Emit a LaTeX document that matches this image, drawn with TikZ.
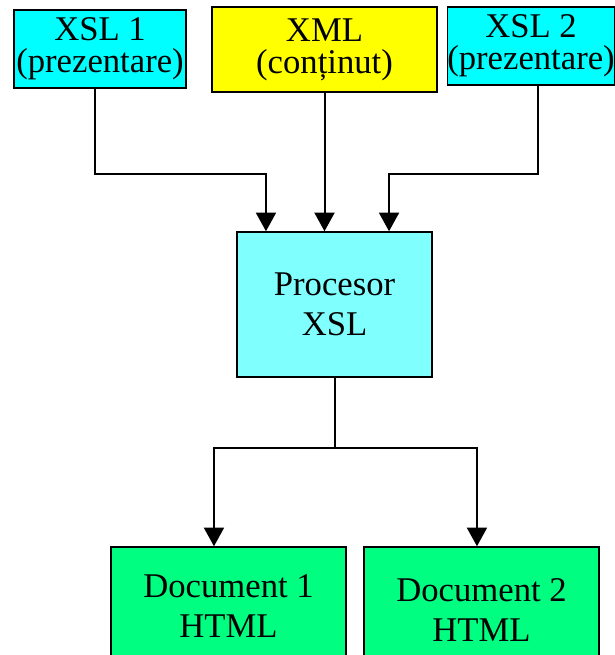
\documentclass[tikz,border=0pt]{standalone}
\usepackage{fontspec}
\setmainfont{Liberation Serif}
\usetikzlibrary{arrows.meta}

\definecolor{xslcyan}{RGB}{0,255,255}
\definecolor{xmlyellow}{RGB}{255,255,0}
\definecolor{proccyan}{RGB}{128,255,255}
\definecolor{docgreen}{RGB}{0,255,128}

\begin{document}
\begin{tikzpicture}[x=0.75pt,y=-0.75pt,>={Triangle[length=14pt,width=15pt]},
                    line width=1.5pt,
                    box/.style={rectangle,draw,line width=1.1pt,align=center,inner sep=0pt,
                                font=\fontsize{26}{30}\selectfont},
                    top box/.style={box,minimum height=58.5pt,
                                font=\fontsize{26}{24}\selectfont}]
\useasboundingbox (0,0) rectangle (614,655);

% sources
\node[top box,fill=xslcyan,minimum width=129pt] (xsl1) at (100,49) {XSL 1\hspace{0.6em}\\(prezentare)};
\node[top box,fill=xmlyellow,minimum width=168.75pt,minimum height=63.75pt] (xml) at (324.5,49.5) {XML\\(conținut)};
\node[top box,fill=xslcyan,minimum width=121.5pt] (xsl2) at (531,46) {XSL 2\\(prezentare)};

% processor
\node[box,fill=proccyan,minimum width=146.25pt,minimum height=108.75pt] (proc) at (334.5,304.5) {Procesor\\XSL};

% results
\node[box,fill=docgreen,minimum width=176.25pt,minimum height=88.5pt] (doc1) at (228.5,606) {Document 1\\HTML};
\node[box,fill=docgreen,minimum width=176.25pt,minimum height=94.5pt] (doc2) at (481.5,610) {Document 2\\HTML};

\coordinate (in1) at ([xshift=-51.4pt]proc.north);
\coordinate (in3) at ([xshift=40.9pt]proc.north);
\coordinate (split) at (proc.south |- 0,448);

\draw[->] ([xshift=-3.75pt]xsl1.south) |- (in1 |- 0,174) -- (in1);
\draw[->] (xml.south) -- (xml.south |- proc.north);
\draw[->] ([xshift=5.25pt]xsl2.south) |- (in3 |- 0,174) -- (in3);

\draw (proc.south) -- (split);
\draw[->] (split) -| ([xshift=-10.9pt]doc1.north);
\draw[->] (split) -| ([xshift=-3.4pt]doc2.north);

\end{tikzpicture}
\end{document}
